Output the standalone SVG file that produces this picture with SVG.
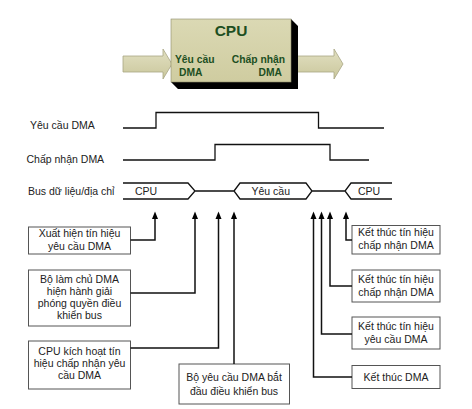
<svg xmlns="http://www.w3.org/2000/svg" width="472" height="409" viewBox="0 0 472 409">
<defs>
<linearGradient id="gBox" x1="0" y1="0" x2="0" y2="1">
<stop offset="0" stop-color="#dbd9b4"/>
<stop offset="1" stop-color="#cfcca0"/>
</linearGradient>
<linearGradient id="gArr" x1="0" y1="0" x2="0" y2="1">
<stop offset="0" stop-color="#e2e0c2"/>
<stop offset="1" stop-color="#cac79c"/>
</linearGradient>
<marker id="ah" markerWidth="10" markerHeight="8" refX="0" refY="0" orient="auto" markerUnits="userSpaceOnUse" viewBox="-2 -4 10 8">
<path d="M6.5,0 L-1,-3 L-1,3 Z" fill="#000"/>
</marker>
<style>
.cpu{font-family:"Liberation Sans",Arial,sans-serif;font-weight:bold;fill:#1d4f22}
.lbl{font-family:"Liberation Sans",Arial,sans-serif;font-size:10.5px;fill:#222}
.box{fill:#fff;stroke:#555;stroke-width:1}
.sig{fill:none;stroke:#111;stroke-width:1.3}
.con{fill:none;stroke:#111;stroke-width:1.5}
.arr{fill:url(#gArr);stroke:#a8a684;stroke-width:0.8}
</style>
</defs>
<rect width="472" height="409" fill="#fff"/>

<g id="cpu">
<path class="arr" d="M123,56 H163 V49 L172,64 L163,79 V72 H123 Z"/>
<path class="arr" d="M294,56 H334 V49 L343,64 L334,79 V72 H294 Z"/>
<path d="M291,19 L298,26 V89 H178 L171,82 H291 Z" fill="#000"/>
<rect x="171" y="19" width="120" height="63" fill="url(#gBox)" stroke="#8c8a6a" stroke-width="0.6"/>
<text class="cpu" x="231" y="36" font-size="15.5" text-anchor="middle">CPU</text>
<text class="cpu" x="175" y="63" font-size="10.3">Yêu cầu</text>
<text class="cpu" x="179" y="75.5" font-size="10.3">DMA</text>
<text class="cpu" x="285" y="63" font-size="10.3" text-anchor="end">Chấp nhận</text>
<text class="cpu" x="282" y="75.5" font-size="10.3" text-anchor="end">DMA</text>
</g>

<g id="timing">
<text class="lbl" x="30" y="129">Yêu cầu DMA</text>
<text class="lbl" x="26.5" y="163">Chấp nhận DMA</text>
<text class="lbl" x="28" y="195">Bus dữ liệu/địa chỉ</text>
<path class="sig" d="M123,128 H156 V112.5 H318.5 V128 H384"/>
<path class="sig" d="M123,160 H215 V144.5 H330 V160 H369"/>
<path class="sig" d="M123,183 H188 L195,191 L188,199 H123 M195,191 H234 M234,191 L240,183 H306 L312,191 L306,199 H240 Z M312,191 H345 M392,183 H351 L345,191 L351,199 H392"/>
<text class="lbl" x="135" y="194.5">CPU</text>
<text class="lbl" x="251.5" y="194.5">Yêu cầu</text>
<text class="lbl" x="358" y="194.5">CPU</text>
</g>

<g id="n1">
<rect class="box" x="28.5" y="227" width="102" height="27"/>
<text class="lbl" x="79.5" y="237" text-anchor="middle">Xuất hiện tín hiệu</text>
<text class="lbl" x="79.5" y="249.5" text-anchor="middle">yêu cầu DMA</text>
</g>
<g id="n2">
<rect class="box" x="28.5" y="270" width="102" height="56"/>
<text class="lbl" x="79.5" y="282.5" text-anchor="middle">Bộ làm chủ DMA</text>
<text class="lbl" x="79.5" y="294.5" text-anchor="middle">hiện hành giải</text>
<text class="lbl" x="79.5" y="306.5" text-anchor="middle">phóng quyền điều</text>
<text class="lbl" x="79.5" y="318.5" text-anchor="middle">khiển bus</text>
</g>
<g id="n3">
<rect class="box" x="28.5" y="341" width="102" height="48"/>
<text class="lbl" x="79.5" y="355" text-anchor="middle">CPU kích hoạt tín</text>
<text class="lbl" x="79.5" y="367" text-anchor="middle">hiệu chấp nhận yêu</text>
<text class="lbl" x="79.5" y="379" text-anchor="middle">cầu DMA</text>
</g>
<g id="n4">
<rect class="box" x="179" y="364" width="110.5" height="40"/>
<text class="lbl" x="234" y="380.5" text-anchor="middle">Bộ yêu cầu DMA bắt</text>
<text class="lbl" x="234" y="394.5" text-anchor="middle">đầu điều khiển bus</text>
</g>
<g id="n5">
<rect class="box" x="352" y="225.5" width="88" height="28.5"/>
<text class="lbl" x="396" y="236" text-anchor="middle">Kết thúc tín hiệu</text>
<text class="lbl" x="396" y="248.5" text-anchor="middle">chấp nhận DMA</text>
</g>
<g id="n6">
<rect class="box" x="352" y="270" width="88" height="32"/>
<text class="lbl" x="396" y="282.5" text-anchor="middle">Kết thúc tín hiệu</text>
<text class="lbl" x="396" y="295.5" text-anchor="middle">chấp nhận DMA</text>
</g>
<g id="n7">
<rect class="box" x="352" y="317" width="88" height="32"/>
<text class="lbl" x="396" y="330" text-anchor="middle">Kết thúc tín hiệu</text>
<text class="lbl" x="396" y="343" text-anchor="middle">yêu cầu DMA</text>
</g>
<g id="n8">
<rect class="box" x="352" y="365.5" width="88" height="23"/>
<text class="lbl" x="396" y="380.5" text-anchor="middle">Kết thúc DMA</text>
</g>

<g id="connectors">
<path class="con" marker-end="url(#ah)" d="M130.5,240 H155 V218"/>
<path class="con" marker-end="url(#ah)" d="M130.5,293 H195 V218"/>
<path class="con" marker-end="url(#ah)" d="M130.5,348 H218.5 V218"/>
<path class="con" marker-end="url(#ah)" d="M234,364 V218"/>
<path class="con" marker-end="url(#ah)" d="M352,240 H346 V218"/>
<path class="con" marker-end="url(#ah)" d="M352,286 H330 V218"/>
<path class="con" marker-end="url(#ah)" d="M352,334 H321.5 V218"/>
<path class="con" marker-end="url(#ah)" d="M352,377 H313.5 V218"/>
</g>
</svg>
